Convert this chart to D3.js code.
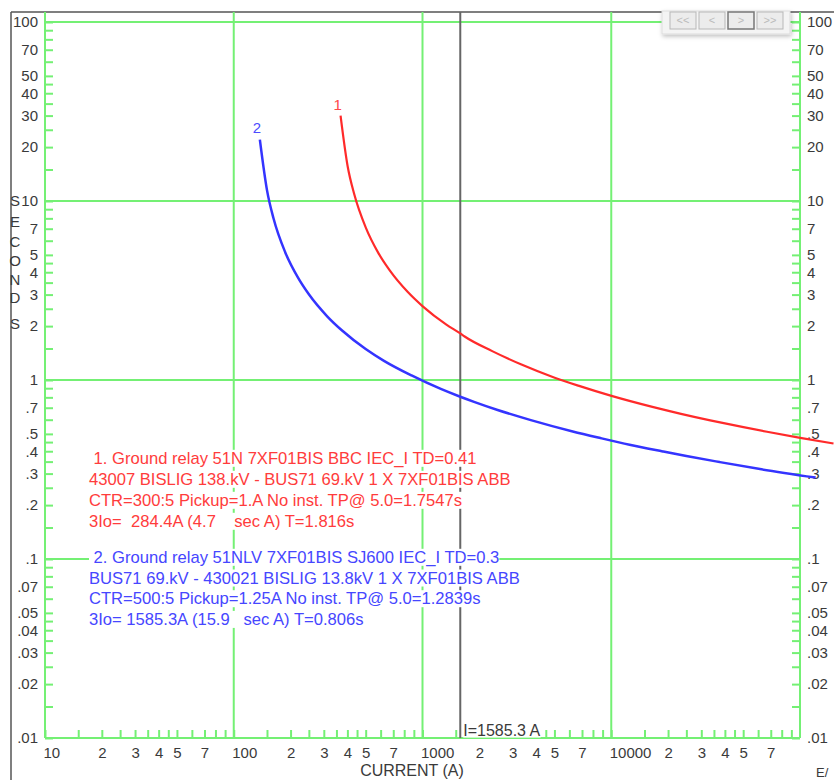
<!DOCTYPE html>
<html>
<head>
<meta charset="utf-8">
<script src="https://cdn.jsdelivr.net/npm/d3@7"></script>
<style>
  body { margin: 0; background: #fff; }
  svg { display: block; font-family: Arial, 'Liberation Sans', sans-serif; }
  .legend text { white-space: pre; }
</style>
</head>
<body>
<svg id="canvas" width="834" height="780"></svg>
<script>

// Relay 1 (red) curve: current (A) vs seconds
var relay1Amps = [368, 401, 435, 502, 585, 669, 836, 1003, 1338, 1585, 1672, 2341, 3344, 5016, 6688, 10030, 16720, 23410, 33440, 50160, 66880, 100300, 150500];
var relay1Secs = [30.0, 15.7, 10.9, 7.05, 5.10, 4.11, 3.10, 2.58, 2.04, 1.82, 1.75, 1.45, 1.22, 1.03, 0.93, 0.815, 0.705, 0.647, 0.595, 0.545, 0.514, 0.475, 0.442];

// Relay 2 (blue) curve
var relay2Amps = [137.5, 150, 162.5, 187.5, 219, 250, 312.5, 375, 500, 625, 875, 1250, 1585, 1875, 2500, 3750, 6250, 8750, 12500, 18750, 25000, 37500, 62500, 121000];
var relay2Secs = [22.0, 11.5, 7.98, 5.16, 3.73, 3.01, 2.27, 1.89, 1.49, 1.28, 1.06, 0.891, 0.806, 0.755, 0.680, 0.597, 0.516, 0.474, 0.435, 0.399, 0.376, 0.348, 0.317, 0.285];

var faultAmps = 1585.3;

// Tick labels
var xTickLabels = [[10, '10'], [20, '2'], [30, '3'], [40, '4'], [50, '5'], [70, '7'],
  [100, '100'], [200, '2'], [300, '3'], [400, '4'], [500, '5'], [700, '7'],
  [1000, '1000'], [2000, '2'], [3000, '3'], [4000, '4'], [5000, '5'], [7000, '7'],
  [10000, '10000'], [20000, '2'], [30000, '3'], [40000, '4'], [50000, '5'], [70000, '7']];
var yTickLabels = [[100, '100'], [70, '70'], [50, '50'], [40, '40'], [30, '30'], [20, '20'],
  [10, '10'], [7, '7'], [5, '5'], [4, '4'], [3, '3'], [2, '2'],
  [1, '1'], [0.7, '.7'], [0.5, '.5'], [0.4, '.4'], [0.3, '.3'], [0.2, '.2'],
  [0.1, '.1'], [0.07, '.07'], [0.05, '.05'], [0.04, '.04'], [0.03, '.03'], [0.02, '.02'], [0.01, '.01']];
var minorSteps = [1.5, 2, 2.5, 3, 3.5, 4, 4.5, 5, 6, 7, 8, 9];

var legend1 = [
  ' 1. Ground relay 51N 7XF01BIS BBC IEC_I TD=0.41',
  '43007 BISLIG 138.kV - BUS71 69.kV 1 X 7XF01BIS ABB',
  'CTR=300:5 Pickup=1.A No inst. TP@ 5.0=1.7547s',
  '3Io=  284.4A (4.7    sec A) T=1.816s'
];
var legend2 = [
  ' 2. Ground relay 51NLV 7XF01BIS SJ600 IEC_I TD=0.3',
  'BUS71 69.kV - 430021 BISLIG 13.8kV 1 X 7XF01BIS ABB',
  'CTR=500:5 Pickup=1.25A No inst. TP@ 5.0=1.2839s',
  '3Io= 1585.3A (15.9   sec A) T=0.806s'
];

var plot = { left: 45, right: 800, top: 22, bottom: 738 };
var green = '#74f074';
var red = '#ff2a2a';
var blue = '#3434ff';
var labelGray = '#3a3a3a';

var canvas = d3.select('#canvas');

var x = d3.scaleLog().domain([10, 100000]).range([plot.left, plot.right]);
var y = d3.scaleLog().domain([0.01, 100]).range([plot.bottom, plot.top]);

function minorTicks(lo, hi) {
  var out = [];
  for (var d = lo; d < hi; d *= 10) {
    minorSteps.forEach(function (s) { out.push(d * s); });
  }
  return out;
}
var xLabelMap = new Map(xTickLabels);
var yLabelMap = new Map(yTickLabels);

// window frame
canvas.append('line').attr('x1', 11).attr('x2', 834).attr('y1', 12).attr('y2', 12)
  .attr('stroke', '#555').attr('stroke-width', 1.5);
canvas.append('line').attr('x1', 11).attr('x2', 11).attr('y1', 12).attr('y2', 780)
  .attr('stroke', '#555').attr('stroke-width', 1.5);

// grid
var grid = canvas.append('g').attr('stroke', green).attr('stroke-width', 2);
[10, 100, 1000, 10000, 100000].forEach(function (v) {
  grid.append('line').attr('x1', x(v)).attr('x2', x(v)).attr('y1', 12).attr('y2', plot.bottom);
});
[0.01, 0.1, 1, 10, 100].forEach(function (v) {
  grid.append('line').attr('x1', plot.left).attr('x2', plot.right).attr('y1', y(v)).attr('y2', y(v));
});

// axes with inward ticks
function styleAxis(g) {
  g.select('.domain').remove();
  g.selectAll('.tick line').attr('stroke', green).attr('stroke-width', 2);
  g.selectAll('.tick text').attr('fill', labelGray).style('font-size', '15px')
    .style('font-family', "Arial, 'Liberation Sans', sans-serif");
}

var yTicks = minorTicks(0.01, 100).concat([0.01, 0.1, 1, 10, 100]);
canvas.append('g')
  .attr('transform', 'translate(' + plot.left + ',0)')
  .call(d3.axisLeft(y).tickValues(yTicks).tickSizeInner(-8).tickSizeOuter(0).tickPadding(7)
    .tickFormat(function (d) { return yLabelMap.get(+d.toPrecision(3)) || ''; }))
  .call(styleAxis);
canvas.append('g')
  .attr('transform', 'translate(' + plot.right + ',0)')
  .call(d3.axisRight(y).tickValues(yTicks).tickSizeInner(-8).tickSizeOuter(0).tickPadding(7)
    .tickFormat(function (d) { return yLabelMap.get(+d.toPrecision(3)) || ''; }))
  .call(styleAxis);

var xAxis = canvas.append('g')
  .attr('transform', 'translate(0,' + plot.bottom + ')')
  .call(d3.axisBottom(x).tickValues(minorTicks(10, 100000).concat([10, 100, 1000, 10000])).tickSizeInner(-8).tickSizeOuter(0).tickPadding(9)
    .tickFormat(function (d) { return xLabelMap.get(+d.toPrecision(3)) || ''; }))
  .call(styleAxis);
xAxis.selectAll('.tick text')
  .filter(function (d) { return [10, 100, 1000, 10000].indexOf(d) >= 0; })
  .attr('text-anchor', 'start').attr('dx', -2);

// axis titles
canvas.append('g').selectAll('text')
  .data('SECONDS'.split(''))
  .enter().append('text')
  .attr('x', 15).attr('y', function (d, i) { return [201, 222, 242, 261, 280, 298, 324][i]; })
  .attr('dy', '0.35em').attr('text-anchor', 'middle')
  .attr('fill', labelGray).style('font-size', '15px')
  .text(function (d) { return d; });

canvas.append('text')
  .attr('x', 412).attr('y', 770).attr('dy', '0.35em').attr('text-anchor', 'middle')
  .attr('fill', labelGray).style('font-size', '16px').text('CURRENT (A)');
canvas.append('text')
  .attr('x', 816).attr('y', 777).attr('fill', labelGray).style('font-size', '13px').text('E/');

// fault current marker
canvas.append('line')
  .attr('x1', x(faultAmps)).attr('x2', x(faultAmps)).attr('y1', 12).attr('y2', plot.bottom)
  .attr('stroke', '#666').attr('stroke-width', 2);

function labelWithBg(g, tx, ty, str, color, size) {
  var t = g.append('text').attr('x', tx).attr('y', ty).attr('dy', '0.35em')
    .attr('fill', color).style('font-size', size + 'px').style('white-space', 'pre').text(str);
  var b = t.node().getBBox();
  g.insert('rect', 'text').attr('x', b.x).attr('y', b.y + 1).attr('width', b.width).attr('height', b.height - 2)
    .attr('fill', '#fff');
  return t;
}

var faultLabel = canvas.append('g');
labelWithBg(faultLabel, x(faultAmps) + 3, 730, 'I=1585.3 A', labelGray, 16);

// legend blocks
var legend = canvas.append('g').attr('class', 'legend');
legend1.forEach(function (s, i) {
  labelWithBg(legend.append('g'), 89, 458 + i * 21, s, '#ff3c3c', 16.6);
});
legend2.forEach(function (s, i) {
  labelWithBg(legend.append('g'), 89, 557 + i * 20.7, s, '#4646ff', 16.6);
});

// curves
var line = d3.line()
  .x(function (d) { return x(d[0]); })
  .y(function (d) { return y(d[1]); })
  .curve(d3.curveMonotoneX);

canvas.append('path')
  .datum(d3.zip(relay1Amps, relay1Secs))
  .attr('d', line).attr('fill', 'none').attr('stroke', red).attr('stroke-width', 2.2);
canvas.append('path')
  .datum(d3.zip(relay2Amps, relay2Secs))
  .attr('d', line).attr('fill', 'none').attr('stroke', blue).attr('stroke-width', 2.5);

canvas.append('text').attr('x', x(relay1Amps[0]) - 3).attr('y', y(relay1Secs[0]) - 11).attr('dy', '0.35em')
  .attr('text-anchor', 'middle').attr('fill', '#ff4848').style('font-size', '15px').text('1');
canvas.append('text').attr('x', x(relay2Amps[0]) - 3).attr('y', y(relay2Secs[0]) - 12).attr('dy', '0.35em')
  .attr('text-anchor', 'middle').attr('fill', '#4c4cff').style('font-size', '15px').text('2');

// navigation widget in the corner
var defs = canvas.append('defs');
var shadow = defs.append('filter').attr('id', 'shadow').attr('x', '-10%').attr('y', '-20%').attr('width', '130%').attr('height', '160%');
shadow.append('feDropShadow').attr('dx', 1).attr('dy', 2).attr('stdDeviation', 2).attr('flood-opacity', 0.25);

var nav = canvas.append('g');
nav.append('rect').attr('x', 662).attr('y', 11).attr('width', 128).attr('height', 23)
  .attr('fill', '#f4f4f4').attr('stroke', '#ddd').attr('filter', 'url(#shadow)');
['<<', '<', '>', '>>'].forEach(function (s, i) {
  var bx = 670 + i * 29;
  nav.append('rect').attr('x', bx).attr('y', 12).attr('width', 26).attr('height', 17)
    .attr('fill', '#ececec').attr('stroke', i === 2 ? '#777' : '#b8b8b8').attr('stroke-width', i === 2 ? 1.5 : 1);
  nav.append('text').attr('x', bx + 13).attr('y', 20).attr('dy', '0.35em').attr('text-anchor', 'middle')
    .attr('fill', '#bbb').style('font-size', '11px').text(s);
});

</script>
</body>
</html>
